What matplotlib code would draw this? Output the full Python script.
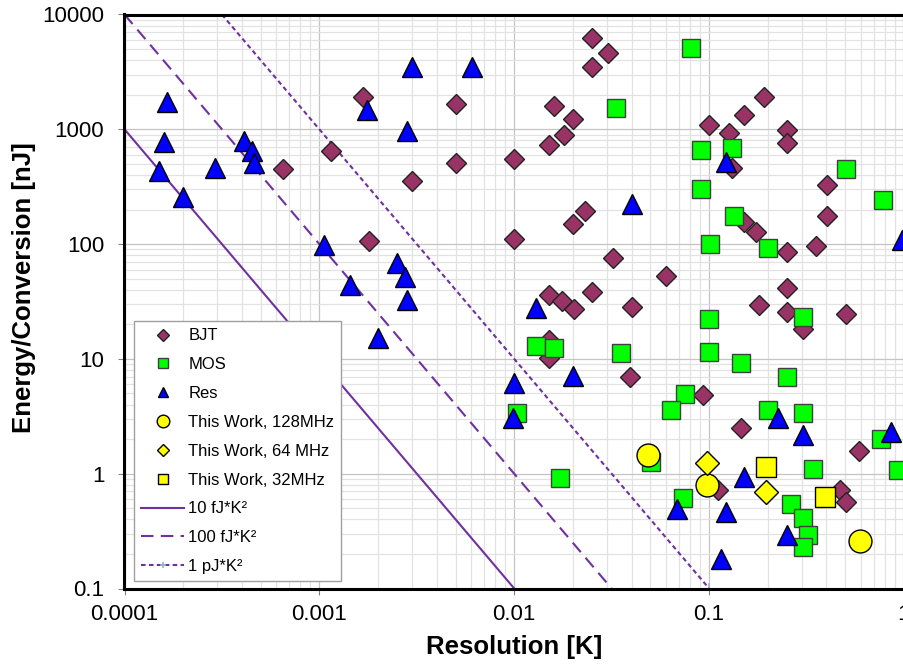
import matplotlib
matplotlib.use('Agg')
import matplotlib.pyplot as plt
from matplotlib.ticker import FixedLocator, LogLocator, FuncFormatter, NullFormatter

plt.rcParams['font.family'] = ['Liberation Sans', 'DejaVu Sans']

# BJT sensors (resolution [K], energy [nJ])
bjt_res = [1.68e-3, 5.0e-3, 1.15e-3, 6.5e-4, 3.0e-3, 5.0e-3, 0.01, 1.8e-3, 0.01,
           0.0251, 0.0301, 0.0251, 0.016, 0.0201, 0.0181, 0.0151, 0.1, 0.126,
           0.151, 0.191, 0.252, 0.252, 0.131, 0.404, 0.404, 0.151, 0.174, 0.252,
           0.352, 0.252, 0.0232, 0.0201, 0.0322, 0.06, 0.0251, 0.015, 0.0176,
           0.0202, 0.0403, 0.181, 0.25, 0.302, 0.504, 0.0151, 0.0151, 0.0392,
           0.0927, 0.145, 0.587, 0.111, 0.469, 0.504]
bjt_energy = [1920, 1650, 650, 450, 355, 510, 550, 106, 110,
              6300, 4600, 3500, 1600, 1230, 890, 730, 1100, 920,
              1330, 1900, 990, 755, 457, 327, 177, 157, 127, 86,
              97, 41.2, 195, 149, 75, 52.7, 37.9, 35.7, 32.1,
              27, 28.5, 29.5, 25.8, 18.1, 24.6, 14.6, 10.1, 6.9,
              4.85, 2.48, 1.58, 0.72, 0.72, 0.57]

# MOS sensors
mos_res = [0.0804, 0.0333, 0.0905, 0.131, 0.0905, 0.134, 0.101, 0.201, 0.504,
           0.782, 0.1, 0.1, 0.302, 0.146, 0.252, 0.013, 0.016, 0.0351, 0.0753,
           0.0635, 0.201, 0.302, 0.0103, 0.761, 0.342, 0.933, 0.0503, 0.0171,
           0.0736, 0.262, 0.302, 0.322, 0.302]
mos_energy = [5080, 1520, 660, 690, 300, 176, 101, 92, 450,
              242, 22.1, 11.6, 23.3, 9.3, 7.0, 12.9, 12.4, 11.2, 4.92,
              3.59, 3.59, 3.4, 3.4, 2.0, 1.09, 1.08, 1.27, 0.91,
              0.61, 0.55, 0.41, 0.29, 0.23]

# Resistor based sensors
res_res = [1.65e-4, 1.6e-4, 1.51e-4, 2.0e-4, 2.91e-4, 4.12e-4, 4.53e-4, 4.62e-4,
           1.06e-3, 2.49e-3, 2.75e-3, 1.44e-3, 2.81e-3, 1.75e-3, 2.81e-3, 3.0e-3,
           6.04e-3, 1.99e-3, 0.01, 0.0099, 0.0129, 0.0201, 0.0686, 0.122, 0.1145,
           0.151, 0.226, 0.302, 0.252, 0.853, 0.0403, 0.122, 0.972]
res_energy = [1740, 780, 436, 259, 463, 796, 651, 506,
              98, 68, 52, 44, 32.6, 1470, 967, 3510,
              3510, 15.1, 6.2, 3.04, 27.6, 7.1, 0.49, 0.467, 0.18,
              0.93, 3.07, 2.17, 0.292, 2.32, 223, 522, 108.6]

# This work
tw128_res = [0.0483, 0.0978, 0.595]
tw128_energy = [1.455, 0.797, 0.261]
tw64_res = [0.0978, 0.196]
tw64_energy = [1.25, 0.697]
tw32_res = [0.196, 0.393]
tw32_energy = [1.14, 0.631]

# FoM lines (end points)
fom_labels = ['10 fJ*K²', '100 fJ*K²', '1 pJ*K²']
fom_res = [[1e-4, 1e-2], [1e-4, 0.0316], [3.16e-4, 0.1]]
fom_energy = [[1000, 0.1], [10000, 0.1], [10000, 0.1]]

fig = plt.figure(figsize=(9.04, 6.65), dpi=100)
ax = fig.add_axes([124.5 / 904, 76.5 / 665, 779.5 / 904, 574 / 665])
ax.set_xscale('log')
ax.set_yscale('log')
ax.set_xlim(1e-4, 1)
ax.set_ylim(0.1, 10000)

purple = '#7030a0'
ax.plot(fom_res[0], fom_energy[0], color=purple, lw=1.5, label=fom_labels[0], zorder=2)
ax.plot(fom_res[1], fom_energy[1], color=purple, lw=1.5, dashes=(6, 3.5),
        label=fom_labels[1], zorder=2)
ax.plot(fom_res[2], fom_energy[2], color=purple, lw=1.5, dashes=(2.2, 1.6),
        marker='+', markevery=[1], ms=9, mec='#9ab0d0', mew=1.2,
        label=fom_labels[2], zorder=2)

ax.plot(bjt_res, bjt_energy, 'D', ms=10.5, mfc='#993366', mec='#222222', mew=1,
        label='BJT', zorder=3)
ax.plot(mos_res, mos_energy, 's', ms=13, mfc='#00ff00', mec='#404040', mew=1,
        label='MOS', zorder=4)
ax.plot(res_res, res_energy, '^', ms=14, mfc='#0000ff', mec='black', mew=1,
        label='Res', zorder=5)
ax.plot(tw128_res, tw128_energy, 'o', ms=16.5, mfc='#ffff00', mec='black', mew=1,
        label='This Work, 128MHz', zorder=6)
ax.plot(tw64_res, tw64_energy, 'D', ms=12, mfc='#ffff00', mec='black', mew=1,
        label='This Work, 64 MHz', zorder=6)
ax.plot(tw32_res, tw32_energy, 's', ms=14, mfc='#ffff00', mec='black', mew=1,
        label='This Work, 32MHz', zorder=6)

# Grid
ax.set_axisbelow(True)
ax.yaxis.set_minor_locator(LogLocator(base=10, subs=range(2, 10)))
ax.xaxis.set_minor_locator(LogLocator(base=10, subs=range(2, 10)))
ax.grid(which='major', color='#c4c4c4', lw=0.9)
ax.grid(which='minor', color='#e2e2e2', lw=0.9)

# Ticks
fmt = FuncFormatter(lambda v, p: '%g' % v)
ax.xaxis.set_major_locator(FixedLocator([1e-4, 1e-3, 1e-2, 1e-1, 1]))
ax.yaxis.set_major_locator(FixedLocator([0.1, 1, 10, 100, 1000, 10000]))
ax.xaxis.set_major_formatter(fmt)
ax.yaxis.set_major_formatter(fmt)
ax.xaxis.set_minor_formatter(NullFormatter())
ax.yaxis.set_minor_formatter(NullFormatter())
ax.tick_params(which='major', direction='out', length=4.5, width=0.8,
               color='#808080', labelsize=16)
ax.tick_params(axis='y', which='major', pad=10)
ax.tick_params(axis='x', which='major', pad=7)
ax.tick_params(which='minor', length=0)

for s in ['left', 'bottom', 'top', 'right']:
    ax.spines[s].set_linewidth(2.2)
    ax.spines[s].set_color('black')

ax.set_xlabel('Resolution [K]', fontsize=18.5, fontweight='bold', labelpad=7)
ax.set_ylabel('Energy/Conversion [nJ]', fontsize=18.5, fontweight='bold')
ax.yaxis.set_label_coords(-0.113, 0.525)

# Legend order like the reference
h, l = ax.get_legend_handles_labels()
order = [3, 4, 5, 6, 7, 8, 0, 1, 2]
leg = ax.legend([h[i] for i in order], [l[i] for i in order],
                loc='lower left', bbox_to_anchor=(0.012, 0.013), borderaxespad=0,
                fontsize=12, markerscale=0.55, handlelength=2.6, handletextpad=0.25,
                labelspacing=0.83, borderpad=0.42, fancybox=False, framealpha=1,
                edgecolor='#a0a0a0')
leg.get_frame().set_linewidth(1)
leg.set_zorder(10)

fig.savefig('out.png', dpi=100)
